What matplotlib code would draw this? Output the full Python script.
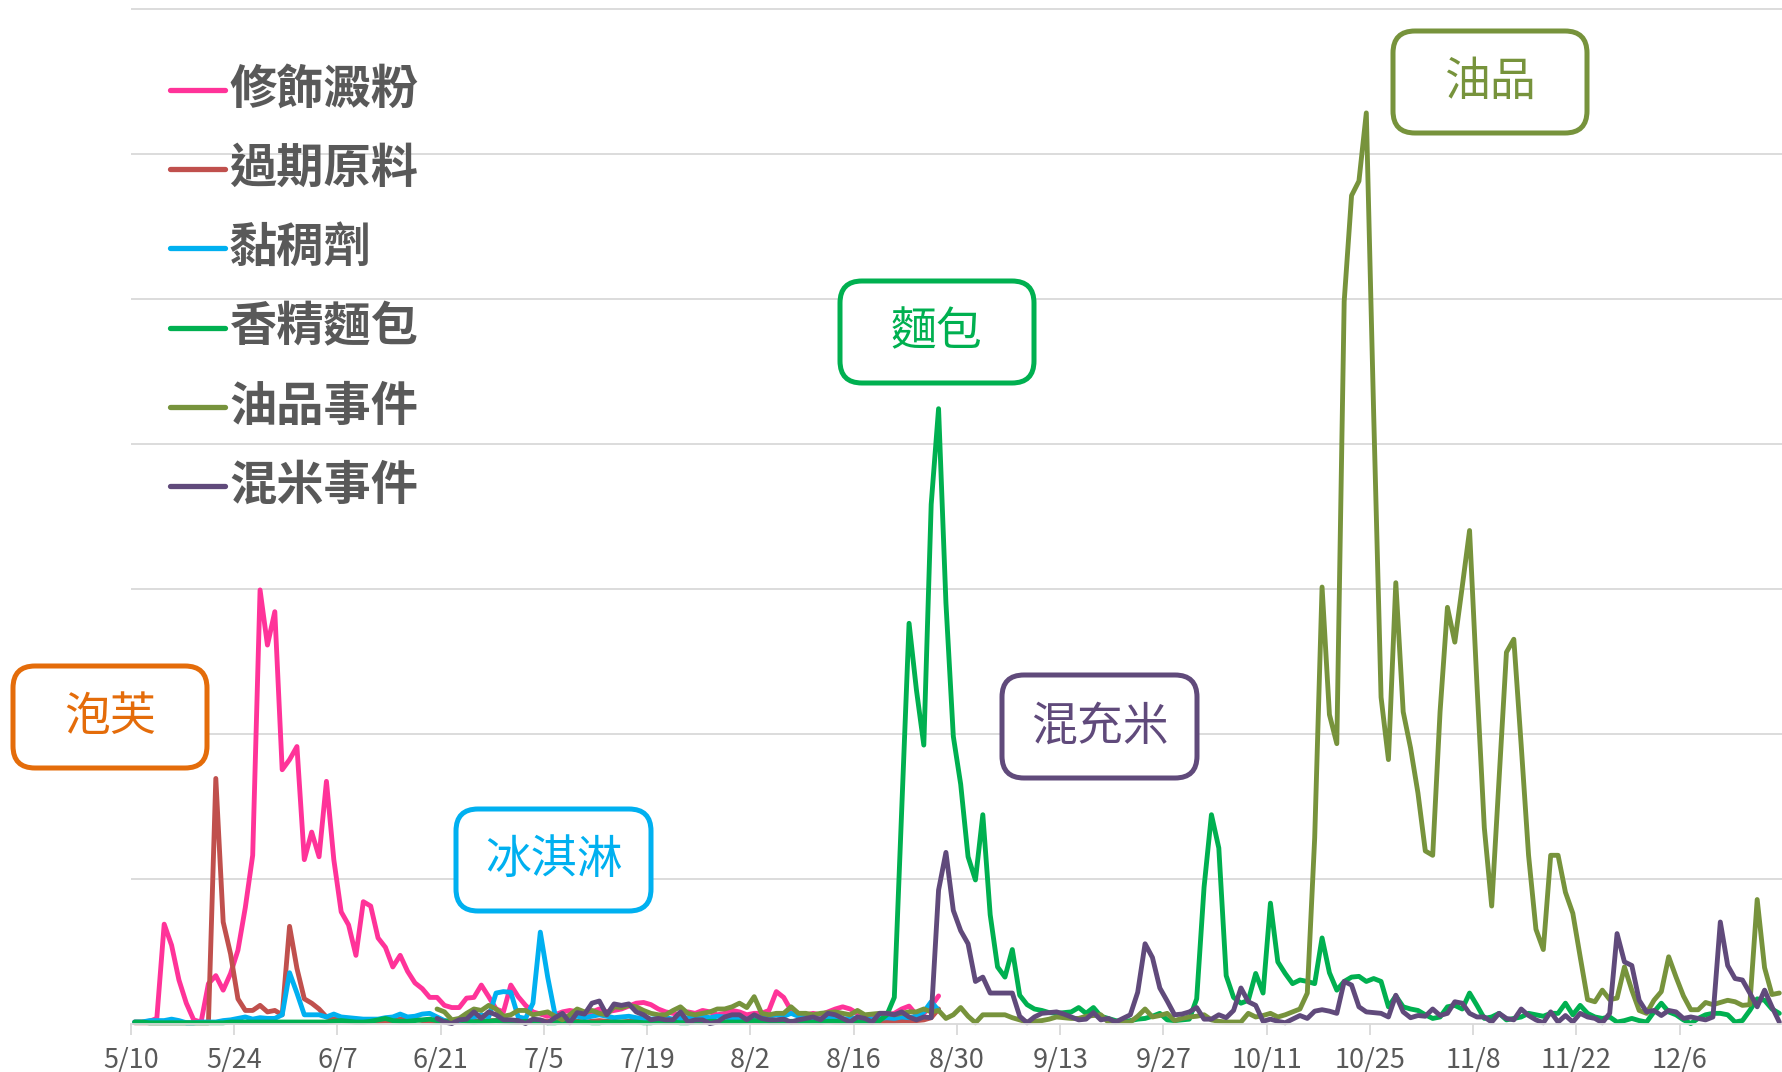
import numpy as np
import pandas as pd
import matplotlib
matplotlib.use("Agg")
import matplotlib.pyplot as plt
from matplotlib.patches import FancyBboxPatch

plt.rcParams['font.family'] = ['Noto Sans CJK TC', 'DejaVu Sans']

# Período: um ponto por dia a partir de 5/10
dataInicio = "2013-05-10"
numDias = 224

nomes = ["修飾澱粉", "過期原料", "黏稠劑", "香精麵包", "油品事件", "混米事件"]
cores = ["#FF3399", "#C0504D", "#00B0F0", "#00B050", "#77933C", "#604A7B"]

# Início de cada série (data do primeiro ponto)
inicios = ["2013-05-10", "2013-05-10", "2013-05-10", "2013-05-10", "2013-06-20", "2013-06-20"]

amido = [0.1, 0.1, 0.15, 0.35, 6.85, 5.4, 3.0, 1.4, 0.25, 0.1,
         2.75, 3.3, 2.3, 3.45, 5.05, 8.0, 11.6, 29.9, 26.1, 28.4,
         17.5, 18.2, 19.1, 11.3, 13.2, 11.5, 16.7, 11.3, 7.7, 6.8,
         4.7, 8.4, 8.1, 5.9, 5.25, 3.9, 4.7, 3.6, 2.8, 2.4,
         1.8, 1.8, 1.25, 1.1, 1.1, 1.75, 1.8, 2.65, 1.85, 1.0,
         0.8, 2.65, 1.85, 1.25, 0.8, 0.65, 0.5, 0.6, 0.8, 0.9,
         0.8, 0.7, 0.8, 1.0, 0.8, 0.9, 1.0, 1.2, 1.4, 1.45,
         1.3, 1.0, 0.8, 0.7, 0.6, 0.8, 0.7, 0.9, 0.8, 0.6,
         0.7, 0.9, 0.8, 0.6, 0.7, 0.7, 0.9, 2.2, 1.8, 0.9,
         0.7, 0.6, 0.7, 0.6, 0.8, 1.0, 1.15, 1.0, 0.7, 0.5,
         0.6, 0.5, 0.6, 0.7, 1.0, 1.2, 0.6, 0.7, 1.2, 1.9]

vencido = [0.05, 0.05, 0.05, 0.05, 0.05, 0.05, 0.05, 0.05, 0.05, 0.05,
           0.05, 16.9, 7.0, 4.8, 1.7, 0.9, 0.9, 1.25, 0.8, 0.9,
           0.6, 6.7, 3.8, 1.7, 1.4, 1.0, 0.45, 0.3, 0.35, 0.25,
           0.3, 0.2, 0.2, 0.15, 0.2, 0.2, 0.3, 0.35, 0.3, 0.2,
           0.2, 0.15, 0.2, 0.1, 0.15, 0.2, 0.2, 0.15, 0.2, 0.2,
           0.2, 0.15, 0.1, 0.15, 0.2, 0.2, 0.15, 0.1, 0.15, 0.2,
           0.15, 0.1, 0.15, 0.2, 0.15, 0.1, 0.1, 0.15, 0.2, 0.15,
           0.1, 0.15, 0.1, 0.1, 0.15, 0.2, 0.15, 0.1, 0.1, 0.15,
           0.1, 0.15, 0.2, 0.15, 0.1, 0.1, 0.15, 0.2, 0.15, 0.1,
           0.1, 0.15, 0.1, 0.1, 0.15, 0.1, 0.1, 0.15, 0.1, 0.1,
           0.1, 0.1, 0.15, 0.15, 0.2, 0.2, 0.2, 0.25, 0.4, 1.0]

espessante = [0.1, 0.1, 0.2, 0.2, 0.2, 0.3, 0.2, 0.05, 0.05, 0.1,
              0.1, 0.1, 0.2, 0.25, 0.35, 0.45, 0.3, 0.4, 0.35, 0.35,
              0.6, 3.5, 2.1, 0.6, 0.6, 0.6, 0.45, 0.65, 0.45, 0.4,
              0.35, 0.3, 0.3, 0.3, 0.4, 0.45, 0.65, 0.45, 0.5, 0.65,
              0.7, 0.45, 0.2, 0.1, 0.2, 0.35, 0.45, 0.6, 0.45, 2.1,
              2.2, 2.15, 0.45, 0.35, 1.4, 6.3, 3.2, 0.6, 0.5, 0.4,
              0.5, 0.4, 0.5, 0.6, 0.5, 0.4, 0.45, 0.5, 0.4, 0.35,
              0.3, 0.35, 0.4, 0.3, 0.35, 0.4, 0.45, 0.5, 0.4, 0.5,
              0.45, 0.35, 0.4, 0.3, 0.35, 0.4, 0.5, 0.6, 0.5, 0.7,
              0.5, 0.4, 0.35, 0.3, 0.4, 0.35, 0.3, 0.35, 0.4, 0.35,
              0.3, 0.35, 0.4, 0.35, 0.45, 0.4, 0.5, 0.8, 1.5, 0.9]

pao = [0.1, 0.1, 0.05, 0.05, 0.05, 0.05, 0.05, 0.05, 0.05, 0.05,
       0.05, 0.05, 0.05, 0.1, 0.1, 0.1, 0.1, 0.1, 0.1, 0.1,
       0.1, 0.1, 0.1, 0.1, 0.1, 0.1, 0.1, 0.15, 0.2, 0.15,
       0.1, 0.1, 0.15, 0.25, 0.35, 0.2, 0.15, 0.15, 0.2, 0.25,
       0.3, 0.2, 0.15, 0.15, 0.25, 0.15, 0.1, 0.15, 0.15, 0.2,
       0.15, 0.1, 0.1, 0.15, 0.1, 0.1, 0.05, 0.05, 0.1, 0.1,
       0.1, 0.1, 0.05, 0.05, 0.1, 0.1, 0.1, 0.1, 0.1, 0.05,
       0.05, 0.1, 0.1, 0.1, 0.05, 0.05, 0.1, 0.1, 0.15, 0.15,
       0.1, 0.1, 0.1, 0.15, 0.2, 0.15, 0.1, 0.1, 0.1, 0.15,
       0.15, 0.1, 0.1, 0.1, 0.15, 0.15, 0.1, 0.1, 0.1, 0.1,
       0.1, 0.2, 0.6, 1.8, 14.7, 27.6, 23.0, 19.2, 35.8, 42.4,
       29.0, 19.8, 16.5, 11.5, 9.9, 14.4, 7.5, 3.9, 3.2, 5.1,
       1.95, 1.3, 1.0, 0.9, 0.75, 0.7, 0.75, 0.8, 1.1, 0.7,
       1.1, 0.5, 0.35, 0.2, 0.1, 0.2, 0.3, 0.35, 0.5, 0.7,
       0.25, 0.2, 0.25, 0.3, 1.7, 9.4, 14.4, 12.1, 3.3, 1.8,
       1.4, 1.6, 3.45, 2.1, 8.3, 4.25, 3.45, 2.75, 3.0, 2.9,
       2.75, 5.9, 3.5, 2.3, 2.9, 3.2, 3.25, 2.9, 3.1, 2.9,
       1.15, 1.9, 1.15, 1.0, 0.9, 0.6, 0.35, 0.45, 1.15, 1.25,
       1.0, 2.1, 1.25, 0.35, 0.45, 0.7, 0.25, 0.35, 0.45, 0.7,
       0.6, 0.5, 0.7, 0.7, 1.4, 0.6, 1.25, 0.7, 0.45, 0.35,
       0.45, 0.1, 0.2, 0.35, 0.2, 0.1, 0.8, 1.4, 0.8, 0.6,
       0.25, 0.0, 0.35, 0.6, 0.7, 0.7, 0.6, 0.1, 0.2, 0.9,
       1.7, 1.6, 1.0, 0.7]

oleo = [1.0, 0.8, 0.25, 0.35, 0.7, 1.0, 0.9, 1.25, 1.0,
        0.5, 0.6, 0.9, 0.9, 0.6, 0.7, 0.8, 0.5, 0.25, 0.6,
        1.0, 0.8, 0.9, 0.7, 0.6, 1.15, 1.1, 1.25, 1.15, 0.9,
        0.7, 0.6, 0.6, 0.9, 1.15, 0.7, 0.6, 0.7, 0.8, 1.0,
        1.0, 1.15, 1.4, 1.1, 1.85, 0.7, 0.6, 0.7, 0.7, 1.15,
        0.7, 0.7, 0.6, 0.7, 0.75, 0.8, 0.7, 0.6, 0.9, 0.6,
        0.65, 0.7, 0.7, 0.6, 0.7, 0.8, 0.8, 1.0, 0.8, 0.9,
        0.35, 0.6, 1.1, 0.5, 0.05, 0.6, 0.6, 0.6, 0.6, 0.4,
        0.25, 0.1, 0.15, 0.2, 0.3, 0.45, 0.4, 0.35, 0.35, 0.5,
        0.55, 0.6, 0.1, 0.1, 0.1, 0.1, 0.5, 1.0, 0.45, 0.55,
        0.7, 0.2, 0.35, 0.45, 0.5, 0.6, 0.25, 0.15, 0.1, 0.1,
        0.1, 0.7, 0.45, 0.55, 0.7, 0.45, 0.6, 0.8, 1.0, 2.1,
        12.8, 30.1, 21.3, 19.3, 49.8, 57.1, 58.1, 62.8, 42.0, 22.5,
        18.2, 30.4, 21.5, 19.0, 15.9, 11.9, 11.6, 21.5, 28.7, 26.3,
        30.1, 34.0, 23.4, 13.5, 8.1, 16.8, 25.6, 26.5, 19.2, 11.6,
        6.5, 5.1, 11.6, 11.6, 9.05, 7.6, 4.6, 1.65, 1.5, 2.3,
        1.65, 1.75, 3.9, 2.3, 0.9, 0.7, 1.6, 2.2, 4.6, 3.2,
        1.9, 0.95, 0.95, 1.45, 1.3, 1.45, 1.6, 1.5, 1.25, 1.3,
        8.55, 3.85, 2.0, 2.1]

arroz = [0.35, 0.1, 0.0, 0.25, 0.3, 0.8, 0.35, 0.8, 0.6,
         0.25, 0.25, 0.2, 0.0, 0.3, 0.25, 0.05, 0.4, 0.7, 0.05,
         0.75, 0.65, 1.4, 1.55, 0.6, 1.35, 1.25, 1.35, 0.8, 0.6,
         0.25, 0.35, 0.25, 0.25, 0.8, 0.1, 0.25, 0.25, 0.0, 0.1,
         0.45, 0.6, 0.6, 0.25, 0.6, 0.35, 0.25, 0.25, 0.3, 0.1,
         0.25, 0.35, 0.45, 0.25, 0.7, 0.6, 0.35, 0.1, 0.45, 0.35,
         0.1, 0.7, 0.7, 0.6, 0.8, 0.45, 0.25, 0.45, 0.4, 9.2,
         11.8, 7.8, 6.4, 5.5, 2.9, 3.2, 2.1, 2.1, 2.1, 2.1,
         0.5, 0.05, 0.45, 0.7, 0.75, 0.8, 0.65, 0.45, 0.25, 0.3,
         0.75, 0.25, 0.35, 0.1, 0.35, 0.6, 2.15, 5.5, 4.55, 2.45,
         1.55, 0.6, 0.65, 0.8, 1.1, 0.3, 0.3, 0.6, 0.4, 0.9,
         2.45, 1.5, 1.25, 0.15, 0.3, 0.15, 0.05, 0.3, 0.55, 0.35,
         0.85, 0.95, 0.85, 0.7, 2.9, 2.65, 1.15, 0.8, 0.75, 0.7,
         0.45, 1.95, 0.8, 0.4, 0.55, 0.5, 1.0, 0.55, 0.7, 1.5,
         1.4, 0.7, 0.45, 0.45, 0.1, 0.7, 0.35, 0.25, 1.0, 0.55,
         0.25, 0.05, 0.8, 0.1, 0.55, 0.1, 0.7, 0.45, 0.35, 0.05,
         0.7, 6.2, 4.25, 4.0, 1.6, 0.8, 0.9, 0.55, 0.9, 0.8,
         0.35, 0.45, 0.35, 0.25, 0.45, 7.0, 4.0, 3.1, 3.0, 2.1,
         1.15, 2.3, 1.15, 0.1]

series = [amido, vencido, espessante, pao, oleo, arroz]

# Caixas de destaque: texto, cor, posição em pixels (x, y, largura, altura)
caixas = [("泡芙", "#E46C0A", 13, 666, 194, 102),
          ("冰淇淋", "#00B0F0", 456, 809, 195, 102),
          ("麵包", "#00B050", 840, 281, 194, 102),
          ("混充米", "#604A7B", 1002, 675, 195, 103),
          ("油品", "#77933C", 1393, 31, 194, 102)]

cinza = "#595959"
grade = "#D9D9D9"
larg, alt = 1783, 1072

fig = plt.figure(figsize=(larg / 100, alt / 100), dpi=100)

# eixo principal (em pixels: esquerda 131, base 1023.5, topo 4)
ax = fig.add_axes([131 / larg, (alt - 1023.5) / alt, (larg - 131) / larg, (1023.5 - 4) / alt])
ax.set_xlim(0, numDias)
ax.set_ylim(0, (1023.5 - 4) / 14.5)

datas = pd.date_range(dataInicio, periods=numDias)
for valores, ini, cor in zip(series, inicios, cores):
    desloc = (pd.Timestamp(ini) - pd.Timestamp(dataInicio)).days
    x = desloc + np.arange(len(valores)) + 0.5
    ax.plot(x, valores, color=cor, lw=3.5, solid_joinstyle='round',
            solid_capstyle='round', clip_on=False)

posTicks = np.arange(0, numDias, 14)
ax.set_xticks(posTicks)
ax.set_xticklabels([f"{datas[i].month}/{datas[i].day}" for i in posTicks])
ax.tick_params(axis='x', length=8, width=1.3, color=grade, labelsize=19.5,
               labelcolor=cinza, pad=9)
ax.set_yticks(np.arange(10, 71, 10))
ax.tick_params(axis='y', length=0, labelleft=False)
ax.yaxis.grid(True, color=grade, lw=1.3)
ax.set_axisbelow(True)
for lado in ['top', 'right', 'left']:
    ax.spines[lado].set_visible(False)
ax.spines['bottom'].set_color(grade)
ax.spines['bottom'].set_linewidth(1.3)

# camada por cima em coordenadas de pixel para legenda e caixas
over = fig.add_axes([0, 0, 1, 1])
over.set_xlim(0, larg)
over.set_ylim(alt, 0)
over.axis('off')

yLeg = 90
for nome, cor in zip(nomes, cores):
    over.plot([170, 225], [yLeg, yLeg], color=cor, lw=3.8, solid_capstyle='round')
    over.text(229, yLeg, nome, fontsize=34, color=cinza, weight='bold', va='center', ha='left')
    yLeg += 79.2

for txt, cor, x0, y0, w, h in caixas:
    over.add_patch(FancyBboxPatch((x0, y0), w, h, boxstyle="round,pad=0,rounding_size=22",
                                  facecolor='white', edgecolor=cor, lw=3.6))
    over.text(x0 + w / 2, y0 + h / 2, txt, fontsize=33, color=cor, ha='center', va='center',
              weight='light')

fig.savefig("out.png", dpi=100)
